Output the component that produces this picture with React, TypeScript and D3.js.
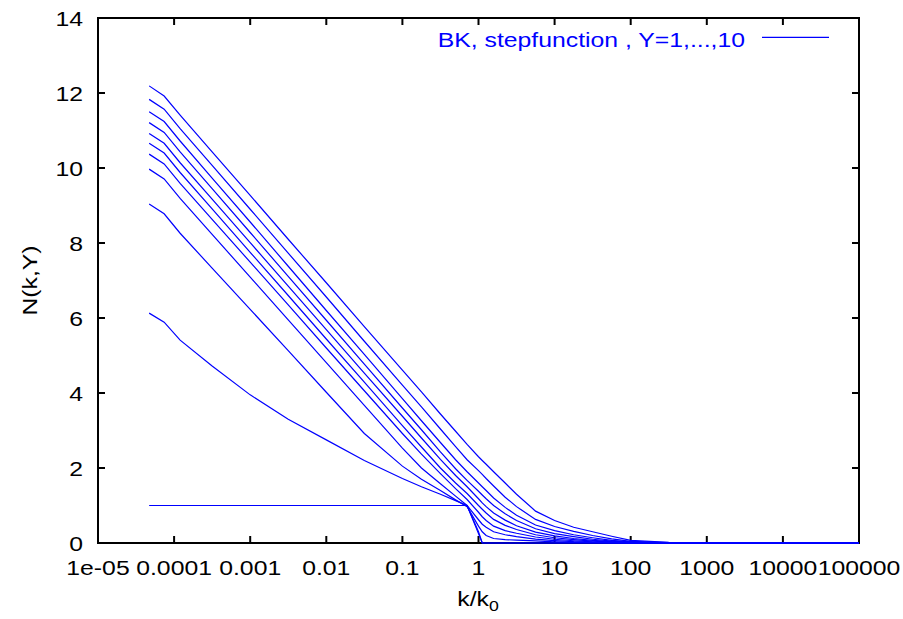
import React from "react";
import * as d3 from "d3";

// k / k0 sample points (shared by all curves)
const kValues = [
  4.7e-5, 7.4e-5, 1.2e-4, 3.16e-4, 1e-3, 3.16e-3, 1e-2, 3.16e-2, 0.1, 0.178,
  0.316, 0.5, 0.708, 1, 1.12, 1.26, 1.58, 2.24, 3.16, 5.62, 10, 17.8, 31.6,
  56.2, 100, 316, 1000, 1e4, 1e5,
];

// N(k,Y)
const nY0 = [1, 1, 1, 1, 1, 1, 1, 1, 1, 1, 1, 1, 1, 0.25, 0, 0, 0, 0, 0, 0, 0, 0, 0, 0, 0, 0, 0, 0, 0];
const nY1 = [6.13, 5.89, 5.41, 4.72, 3.95, 3.3, 2.75, 2.2, 1.72, 1.5, 1.3, 1.13, 1.0, 0.3, 0, 0, 0, 0, 0, 0, 0, 0, 0, 0, 0, 0, 0, 0, 0];
const nY2 = [9.04, 8.78, 8.26, 7.33, 6.23, 5.13, 4.02, 2.92, 2.05, 1.7, 1.4, 1.15, 0.97, 0.45, 0.3, 0.2, 0.12, 0.09, 0.075, 0.055, 0.03, 0.015, 0.008, 0, 0, 0, 0, 0, 0];
const nY3 = [9.97, 9.71, 9.19, 8.23, 7.09, 5.95, 4.81, 3.67, 2.53, 2.0, 1.58, 1.25, 1.0, 0.62, 0.5, 0.42, 0.3, 0.22, 0.17, 0.105, 0.065, 0.035, 0.02, 0.01, 0, 0, 0, 0, 0];
const nY4 = [10.37, 10.11, 9.59, 8.63, 7.49, 6.35, 5.2, 4.06, 2.92, 2.37, 1.85, 1.45, 1.16, 0.82, 0.7, 0.6, 0.45, 0.33, 0.26, 0.16, 0.1, 0.06, 0.03, 0.015, 0.005, 0, 0, 0, 0];
const nY5 = [10.66, 10.4, 9.88, 8.91, 7.75, 6.6, 5.44, 4.29, 3.13, 2.56, 2.0, 1.6, 1.32, 1.0, 0.9, 0.8, 0.63, 0.47, 0.36, 0.22, 0.14, 0.09, 0.05, 0.025, 0.008, 0, 0, 0, 0];
const nY6 = [10.92, 10.66, 10.14, 9.17, 8.01, 6.85, 5.69, 4.53, 3.38, 2.8, 2.23, 1.8, 1.5, 1.18, 1.07, 0.97, 0.8, 0.61, 0.46, 0.29, 0.19, 0.12, 0.07, 0.035, 0.012, 0, 0, 0, 0];
const nY7 = [11.21, 10.95, 10.43, 9.45, 8.28, 7.11, 5.94, 4.77, 3.6, 3.02, 2.43, 1.98, 1.67, 1.38, 1.28, 1.18, 1.0, 0.78, 0.6, 0.38, 0.25, 0.17, 0.1, 0.05, 0.02, 0, 0, 0, 0];
const nY8 = [11.5, 11.24, 10.72, 9.73, 8.56, 7.38, 6.2, 5.03, 3.85, 3.26, 2.68, 2.22, 1.9, 1.6, 1.5, 1.4, 1.2, 0.95, 0.74, 0.48, 0.33, 0.22, 0.14, 0.07, 0.028, 0.005, 0, 0, 0];
const nY9 = [11.83, 11.57, 11.05, 10.07, 8.9, 7.73, 6.56, 5.38, 4.21, 3.63, 3.04, 2.57, 2.22, 1.93, 1.83, 1.72, 1.52, 1.22, 0.97, 0.63, 0.44, 0.31, 0.2, 0.11, 0.045, 0.01, 0, 0, 0];
const nY10 = [12.19, 11.92, 11.41, 10.43, 9.27, 8.1, 6.94, 5.77, 4.61, 4.03, 3.44, 2.98, 2.63, 2.3, 2.2, 2.1, 1.9, 1.6, 1.3, 0.85, 0.6, 0.42, 0.3, 0.18, 0.07, 0.015, 0, 0, 0];

const curves = [nY0, nY1, nY2, nY3, nY4, nY5, nY6, nY7, nY8, nY9, nY10];

const xTickValues = [1e-5, 1e-4, 1e-3, 1e-2, 1e-1, 1, 10, 100, 1000, 1e4, 1e5];
const xTickLabels = ["1e-05", "0.0001", "0.001", "0.01", "0.1", "1", "10", "100", "1000", "10000", "100000"];
const yTickValues = [0, 2, 4, 6, 8, 10, 12, 14];
const legendLabel = "BK, stepfunction , Y=1,...,10";

const W = 903;
const H = 619;
const L = 98, R = 859, T = 18, B = 543;
const FONT = "'Liberation Sans', Arial, Helvetica, sans-serif";
const FS = 21;
const SX = 1.18;
const BLUE = "#0000ff";

function Txt({ x, y, anchor = "start", children, rotate = 0, fill = "#000", size = FS }: any) {
  const tr = `translate(${x},${y})${rotate ? ` rotate(${rotate})` : ""} scale(${SX},1)`;
  return (
    <text transform={tr} textAnchor={anchor} fontFamily={FONT} fontSize={size} fill={fill}>
      {children}
    </text>
  );
}

export default function App() {
  const x = d3.scaleLog().domain([1e-5, 1e5]).range([L, R]);
  const y = d3.scaleLinear().domain([0, 14]).range([B, T]);
  const line = d3
    .line<[number, number]>()
    .x((d) => x(d[0]))
    .y((d) => y(d[1]));
  const tickLen = 7;

  return (
    <svg
      width={W}
      height={H}
      style={{ position: "absolute", left: 0, top: 0, background: "#fff" }}
    >
      <rect x={0} y={0} width={W} height={H} fill="#fff" />
      {/* ticks */}
      {yTickValues.map((v) => (
        <g key={"yt" + v}>
          <line x1={L} x2={L + tickLen} y1={y(v)} y2={y(v)} stroke="#000" strokeWidth={2} />
          <line x1={R} x2={R - tickLen} y1={y(v)} y2={y(v)} stroke="#000" strokeWidth={2} />
          <Txt x={L - 15} y={y(v) + 7.5} anchor="end">{String(v)}</Txt>
        </g>
      ))}
      {xTickValues.map((v, i) => (
        <g key={"xt" + i}>
          <line x1={x(v)} x2={x(v)} y1={B} y2={B - tickLen} stroke="#000" strokeWidth={2} />
          <line x1={x(v)} x2={x(v)} y1={T} y2={T + tickLen} stroke="#000" strokeWidth={2} />
          <Txt x={x(v)} y={575} anchor="middle">{xTickLabels[i]}</Txt>
        </g>
      ))}
      {/* frame */}
      <rect x={L} y={T} width={R - L} height={B - T} fill="none" stroke="#000" strokeWidth={2} />
      {/* curves */}
      {curves.map((c, i) => (
        <path
          key={"c" + i}
          d={line(kValues.map((k, j) => [k, c[j]] as [number, number])) || ""}
          fill="none"
          stroke={BLUE}
          strokeWidth={1.2}
        />
      ))}
      {/* legend */}
      <Txt x={745} y={46.5} anchor="end" fill={BLUE}>{legendLabel}</Txt>
      <line x1={762} x2={829} y1={37.3} y2={37.3} stroke={BLUE} strokeWidth={1.2} />
      {/* axis labels */}
      <Txt x={37} y={B - (B - T) / 2} anchor="middle" rotate={-90}>N(k,Y)</Txt>
      <text
        transform={`translate(478,606) scale(${SX},1)`}
        textAnchor="middle"
        fontFamily={FONT}
        fontSize={FS}
      >
        k/k<tspan fontSize={15} dy={5}>0</tspan>
      </text>
    </svg>
  );
}
